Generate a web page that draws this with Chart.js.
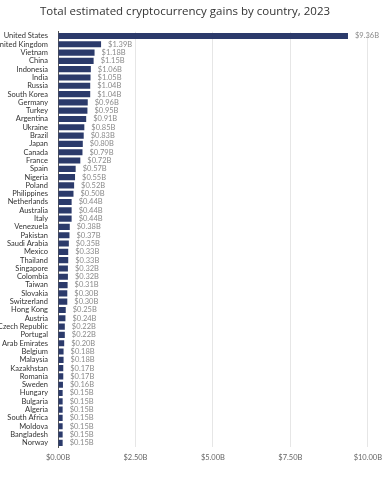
<!DOCTYPE html>
<html>
<head>
<meta charset="utf-8">
<script src="https://cdn.jsdelivr.net/npm/chart.js@4"></script>
<style>
  html, body { margin: 0; padding: 0; background: #fff; }
  #wrap { width: 388px; height: 488px; }
</style>
</head>
<body>
<div id="wrap"><canvas id="chart"></canvas></div>
<script>
// Countries, top to bottom
const countries = [
  "United States", "United Kingdom", "Vietnam", "China", "Indonesia", "India", "Russia",
  "South Korea", "Germany", "Turkey", "Argentina", "Ukraine", "Brazil", "Japan", "Canada",
  "France", "Spain", "Nigeria", "Poland", "Philippines", "Netherlands", "Australia", "Italy",
  "Venezuela", "Pakistan", "Saudi Arabia", "Mexico", "Thailand", "Singapore", "Colombia",
  "Taiwan", "Slovakia", "Switzerland", "Hong Kong", "Austria", "Czech Republic", "Portugal",
  "United Arab Emirates", "Belgium", "Malaysia", "Kazakhstan", "Romania", "Sweden", "Hungary",
  "Bulgaria", "Algeria", "South Africa", "Moldova", "Bangladesh", "Norway"
];

// Gains in billions USD
const gains = [
  9.36, 1.39, 1.18, 1.15, 1.06, 1.05, 1.04,
  1.04, 0.96, 0.95, 0.91, 0.85, 0.83, 0.80, 0.79,
  0.72, 0.57, 0.55, 0.52, 0.50, 0.44, 0.44, 0.44,
  0.38, 0.37, 0.35, 0.33, 0.33, 0.32, 0.32,
  0.31, 0.30, 0.30, 0.25, 0.24, 0.22, 0.22,
  0.20, 0.18, 0.18, 0.17, 0.17, 0.16, 0.15,
  0.15, 0.15, 0.15, 0.15, 0.15, 0.15
];

const xTicks = [0, 2.5, 5, 7.5, 10];

const fmt = (v) => "$" + v.toFixed(2) + "B";

// Draw value labels next to bars
const valueLabels = {
  id: "valueLabels",
  afterDatasetsDraw(chart) {
    const ctx = chart.ctx;
    const meta = chart.getDatasetMeta(0);
    ctx.save();
    ctx.font = "7.5px Lato, sans-serif";
    ctx.fillStyle = "#8a8a8a";
    ctx.textBaseline = "middle";
    ctx.textAlign = "left";
    meta.data.forEach((bar, i) => {
      ctx.fillText(fmt(gains[i]), bar.x + 7, bar.y);
    });
    ctx.restore();
  }
};

new Chart(document.getElementById("chart"), {
  type: "bar",
  data: {
    labels: countries,
    datasets: [{
      data: gains,
      backgroundColor: "#2b3a6b",
      categoryPercentage: 1,
      barPercentage: 0.74
    }]
  },
  options: {
    indexAxis: "y",
    responsive: true,
    maintainAspectRatio: false,
    animation: false,
    layout: { padding: { top: 0, right: 18, bottom: 20, left: 0 } },
    plugins: {
      legend: { display: false },
      tooltip: { enabled: false },
      title: {
        display: true,
        text: "Total estimated cryptocurrency gains by country, 2023",
        color: "#333",
        font: { family: "'Open Sans', sans-serif", size: 11.5, weight: "normal" },
        padding: { top: 5, bottom: 13 }
      }
    },
    scales: {
      x: {
        min: 0,
        max: 10,
        afterBuildTicks(scale) {
          scale.ticks = xTicks.map((v) => ({ value: v }));
        },
        grid: { color: "#e6e6e6", drawTicks: false },
        border: { display: false },
        ticks: {
          color: "#666",
          font: { family: "Lato, sans-serif", size: 7.5 },
          padding: 6,
          maxRotation: 0,
          callback: (v) => fmt(v)
        }
      },
      y: {
        afterFit(scale) { scale.width = 58; },
        grid: { display: false },
        border: { display: true, color: "#555", width: 1 },
        ticks: {
          color: "#333",
          autoSkip: false,
          font: { family: "Lato, sans-serif", size: 7.5 },
          padding: 2
        }
      }
    }
  },
  plugins: [valueLabels]
});
</script>
</body>
</html>
